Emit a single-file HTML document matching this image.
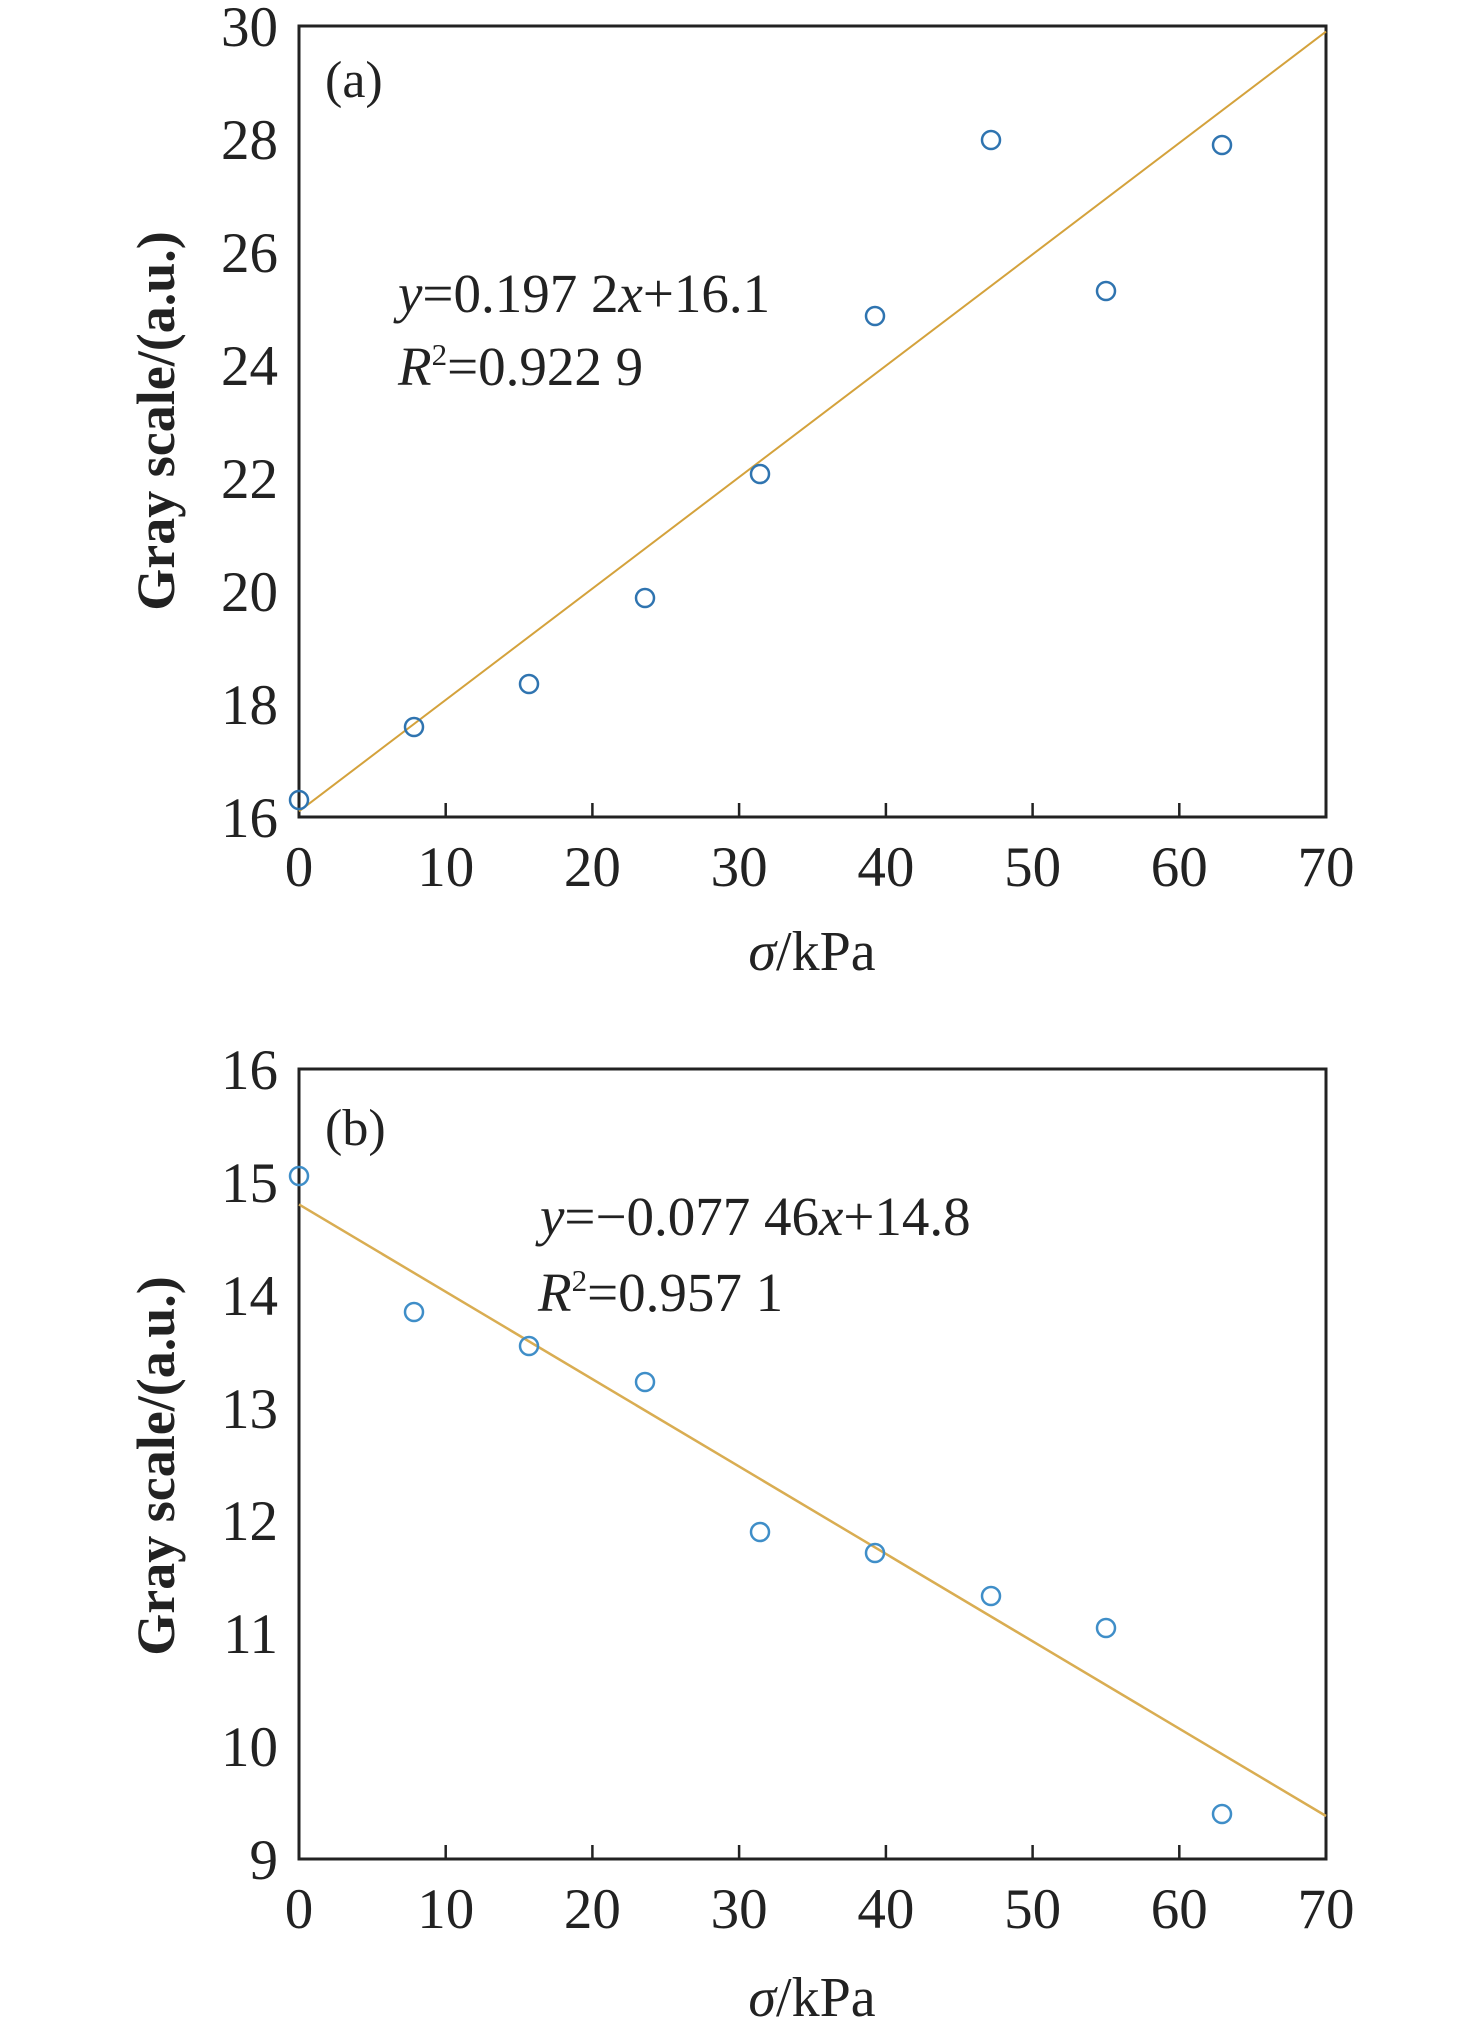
<!DOCTYPE html>
<html><head><meta charset="utf-8"><style>
html,body{margin:0;padding:0;background:#fff;}
svg{display:block;}
text{font-family:"Liberation Serif",serif;fill:#222;}
</style></head><body>
<svg width="1476" height="2022" viewBox="0 0 1476 2022" xmlns="http://www.w3.org/2000/svg">
<!-- Panel a -->
<rect x="299" y="26" width="1027" height="791" fill="none" stroke="#222" stroke-width="3"/>
<g stroke="#222" stroke-width="2.5">
<line x1="445.7" y1="817" x2="445.7" y2="803"/><line x1="592.4" y1="817" x2="592.4" y2="803"/>
<line x1="739.1" y1="817" x2="739.1" y2="803"/><line x1="885.9" y1="817" x2="885.9" y2="803"/>
<line x1="1032.6" y1="817" x2="1032.6" y2="803"/><line x1="1179.3" y1="817" x2="1179.3" y2="803"/>
</g>
<g font-size="57" text-anchor="end">
<text x="278" y="46">30</text><text x="278" y="159">28</text><text x="278" y="272">26</text>
<text x="278" y="385">24</text><text x="278" y="498">22</text><text x="278" y="611">20</text>
<text x="278" y="724">18</text><text x="278" y="837">16</text>
</g>
<g font-size="57" text-anchor="middle">
<text x="299" y="886">0</text><text x="445.7" y="886">10</text><text x="592.4" y="886">20</text>
<text x="739.1" y="886">30</text><text x="885.9" y="886">40</text><text x="1032.6" y="886">50</text>
<text x="1179.3" y="886">60</text><text x="1326" y="886">70</text>
</g>
<text x="812" y="970" font-size="56" text-anchor="middle"><tspan font-style="italic">σ</tspan>/kPa</text>
<text transform="translate(174,421) rotate(-90)" font-size="54" font-weight="bold" text-anchor="middle">Gray scale/(a.u.)</text>
<text x="325" y="97" font-size="52">(a)</text>
<text x="398" y="312" font-size="55"><tspan font-style="italic">y</tspan>=0.197 2<tspan font-style="italic">x</tspan>+16.1</text>
<text x="398" y="385" font-size="55"><tspan font-style="italic">R</tspan><tspan font-size="31" dy="-20">2</tspan><tspan dy="20">=0.922 9</tspan></text>
<line x1="299" y1="811.3" x2="1326" y2="31.6" stroke="#d4a23c" stroke-width="2"/>
<g fill="none" stroke="#2f74b0" stroke-width="2.5">
<circle cx="299" cy="800" r="9"/><circle cx="414" cy="727" r="9"/><circle cx="529" cy="684" r="9"/>
<circle cx="645" cy="598" r="9"/><circle cx="760" cy="474" r="9"/><circle cx="875" cy="316" r="9"/>
<circle cx="991" cy="140" r="9"/><circle cx="1106" cy="291" r="9"/><circle cx="1222" cy="145" r="9"/>
</g>
<!-- Panel b -->
<rect x="299" y="1069" width="1027" height="790" fill="none" stroke="#222" stroke-width="3"/>
<g stroke="#222" stroke-width="2.5">
<line x1="445.7" y1="1859" x2="445.7" y2="1845"/><line x1="592.4" y1="1859" x2="592.4" y2="1845"/>
<line x1="739.1" y1="1859" x2="739.1" y2="1845"/><line x1="885.9" y1="1859" x2="885.9" y2="1845"/>
<line x1="1032.6" y1="1859" x2="1032.6" y2="1845"/><line x1="1179.3" y1="1859" x2="1179.3" y2="1845"/>
</g>
<g font-size="57" text-anchor="end">
<text x="278" y="1089">16</text><text x="278" y="1202">15</text><text x="278" y="1315">14</text>
<text x="278" y="1428">13</text><text x="278" y="1540">12</text><text x="278" y="1653">11</text>
<text x="278" y="1766">10</text><text x="278" y="1879">9</text>
</g>
<g font-size="57" text-anchor="middle">
<text x="299" y="1928">0</text><text x="445.7" y="1928">10</text><text x="592.4" y="1928">20</text>
<text x="739.1" y="1928">30</text><text x="885.9" y="1928">40</text><text x="1032.6" y="1928">50</text>
<text x="1179.3" y="1928">60</text><text x="1326" y="1928">70</text>
</g>
<text x="812" y="2016" font-size="56" text-anchor="middle"><tspan font-style="italic">σ</tspan>/kPa</text>
<text transform="translate(174,1466) rotate(-90)" font-size="54" font-weight="bold" text-anchor="middle">Gray scale/(a.u.)</text>
<text x="325" y="1145" font-size="52">(b)</text>
<text x="540" y="1235" font-size="55"><tspan font-style="italic">y</tspan>=−0.077 46<tspan font-style="italic">x</tspan>+14.8</text>
<text x="538" y="1311" font-size="55"><tspan font-style="italic">R</tspan><tspan font-size="31" dy="-20">2</tspan><tspan dy="20">=0.957 1</tspan></text>
<line x1="299" y1="1204.4" x2="1326" y2="1816" stroke="#d9ad52" stroke-width="2.5"/>
<g fill="none" stroke="#3f8ec8" stroke-width="2.5">
<circle cx="299" cy="1176" r="9"/><circle cx="414" cy="1312" r="9"/><circle cx="529" cy="1346" r="9"/>
<circle cx="645" cy="1382" r="9"/><circle cx="760" cy="1532" r="9"/><circle cx="875" cy="1553" r="9"/>
<circle cx="991" cy="1596" r="9"/><circle cx="1106" cy="1628" r="9"/><circle cx="1222" cy="1814" r="9"/>
</g>
</svg>
</body></html>
